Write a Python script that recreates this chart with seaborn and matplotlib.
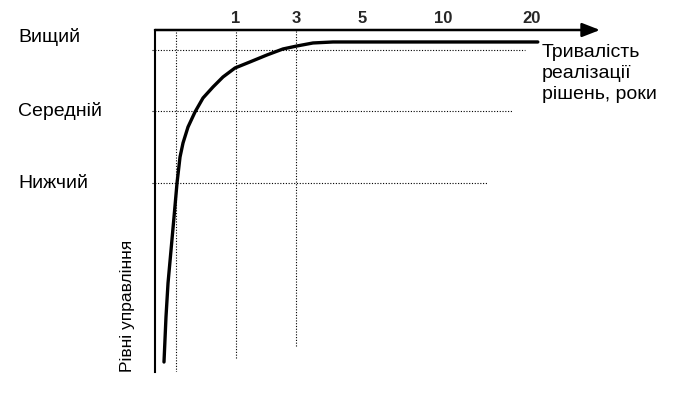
import matplotlib
matplotlib.use('Agg')
import pandas as pd
import seaborn as sns
import matplotlib.pyplot as plt
import matplotlib.transforms as mtransforms

# Levels of management (y) and decision duration ticks (x, schematic positions)
levels = ['Нижчий', 'Середній', 'Вищий']
level_y = [1.0, 2.08, 3.0]
years = ['1', '3', '5', '10', '20']
year_x = [1.35, 2.35, 3.45, 4.8, 6.28]

# Curve
curve_x = [0.15, 0.183, 0.217, 0.267, 0.317, 0.367, 0.417, 0.467, 0.55, 0.667,
           0.80, 0.967, 1.133, 1.333, 1.583, 1.867, 2.133, 2.367, 2.633, 2.967,
           3.25, 6.38]
curve_y = [-1.69, -1.015, -0.504, -0.008, 0.489, 1.0, 1.391, 1.602, 1.842, 2.068,
           2.278, 2.444, 2.594, 2.729, 2.82, 2.925, 3.015, 3.06, 3.105, 3.12,
           3.12, 3.12]

# Ends of the dotted guide lines
hline_end = [5.55, 5.97, 6.17]
vline_x = [0.35, 1.35, 2.35]
vline_bottom = [-1.84, -1.63, -1.45]

sns.set_theme(style='white')
plt.rcParams['font.family'] = ['Liberation Sans', 'DejaVu Sans']

df = pd.DataFrame({'x': curve_x, 'y': curve_y})

fig = plt.figure(figsize=(6.94, 4.0), dpi=100)
ax = fig.add_axes([155 / 694, 28 / 400, 445 / 694, 342 / 400])

sns.lineplot(data=df, x='x', y='y', ax=ax, color='black', linewidth=2.4,
             sort=False, estimator=None, solid_joinstyle='round',
             solid_capstyle='round')

# dotted guide lines
ax.hlines(level_y, -0.05, hline_end, colors='black', linestyles=(0, (1, 1.5)),
          linewidth=0.8, clip_on=False)
ax.vlines(vline_x, vline_bottom, 3.3, colors='black', linestyles=(0, (1, 1.5)),
          linewidth=0.8)

ax.set_xlim(0, 445 / 60)
ax.set_ylim(-1.84, 3.30)

for s in ['right', 'bottom', 'top']:
    ax.spines[s].set_visible(False)
ax.spines['left'].set_color('black')
ax.spines['left'].set_linewidth(1.5)

# x axis with arrow on top
ax.annotate('', xy=(1.0, 1.0), xytext=(0, 1.0), xycoords='axes fraction',
            arrowprops=dict(arrowstyle='-|>,head_length=0.9,head_width=0.35',
                            lw=1.8, color='black', shrinkA=0, shrinkB=0),
            annotation_clip=False)

ax.xaxis.tick_top()
ax.set_xticks(year_x, years)
ax.tick_params(axis='x', length=0, pad=3, labelsize=12)
for t in ax.get_xticklabels():
    t.set_fontweight('bold')
ax.set_yticks([])
ax.set_xlabel('')
ax.set_ylabel('')

trans = mtransforms.blended_transform_factory(ax.transAxes, ax.transData)
label_shift = {'Вищий': 0.19}
for name, yv in zip(levels, level_y):
    ax.text(-0.308, yv + label_shift.get(name, 0), name, transform=trans,
            ha='left', va='center', fontsize=14, color='black')

fig.text(542 / 694, 1 - 44 / 400, 'Тривалість\nреалізації\nрішень, роки',
         ha='left', va='top', fontsize=14, linespacing=1.3, color='black')
fig.text(128 / 694, 28 / 400, 'Рівні управління', rotation=90,
         ha='center', va='bottom', fontsize=12.5, color='black')

fig.savefig('out.png', dpi=100)
